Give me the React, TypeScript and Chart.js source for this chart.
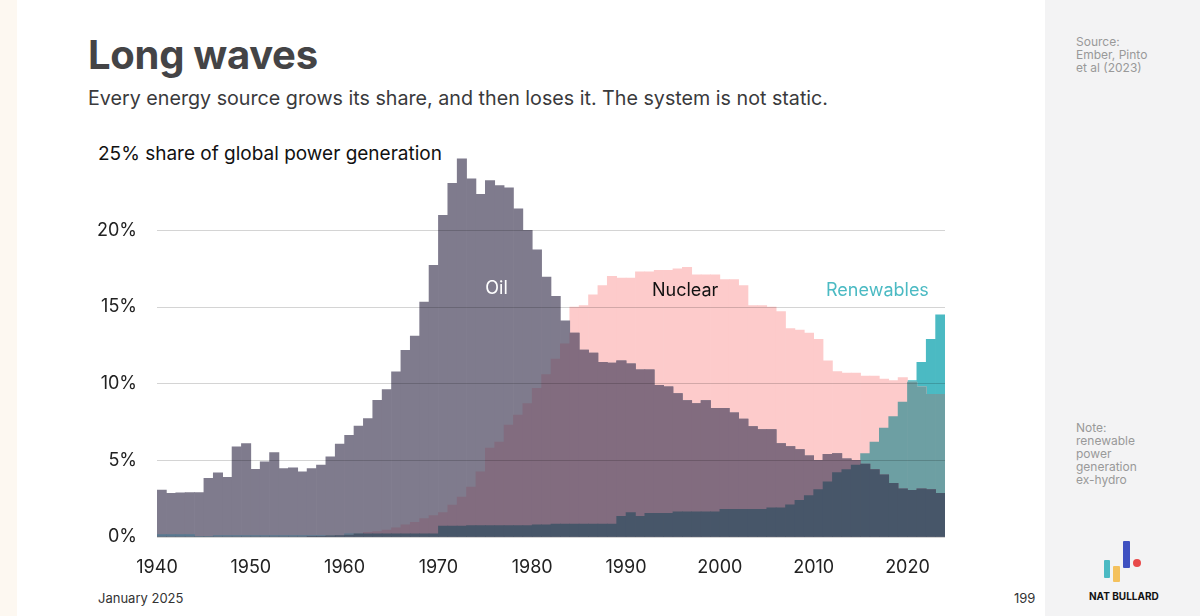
import React, { useEffect, useRef } from "react";
import { Chart, registerables } from "chart.js";
Chart.register(...registerables);

const years: number[] = [];
for (let y = 1940; y <= 2023; y++) years.push(y);

const oil = [
  3.06, 2.85, 2.88, 2.9, 2.9, 3.82, 4.19, 3.89, 5.88, 6.1,
  4.41, 4.91, 5.5, 4.47, 4.51, 4.25, 4.47, 4.69, 5.23, 6.06,
  6.64, 7.23, 7.73, 8.92, 9.62, 10.77, 12.18, 13.1, 15.33, 17.72,
  20.98, 23.08, 24.67, 23.37, 22.35, 23.26, 22.93, 22.78, 21.41, 20.0,
  18.74, 16.96, 15.7, 14.1, 13.3, 12.2, 12.0, 11.4, 11.35, 11.5,
  11.3, 10.9, 10.9, 9.9, 9.8, 9.35, 8.9, 8.7, 8.9, 8.4,
  8.4, 8.1, 7.7, 7.2, 7.0, 7.0, 6.1, 5.9, 5.7, 5.3,
  5.0, 5.4, 5.45, 5.1, 5.0, 4.75, 4.4, 4.05, 3.5, 3.15,
  3.05, 3.15, 3.1, 2.85,
];
const nuclear = [
  0, 0, 0, 0, 0, 0, 0, 0, 0, 0,
  0, 0, 0, 0, 0, 0, 0.02, 0.05, 0.08, 0.1,
  0.12, 0.2, 0.3, 0.35, 0.45, 0.6, 0.8, 0.95, 1.2, 1.4,
  1.6, 2.08, 2.6, 3.26, 4.25, 5.8, 6.2, 7.3, 7.95, 8.7,
  9.7, 10.6, 11.6, 12.6, 15.0, 15.1, 15.8, 16.4, 17.0, 16.9,
  16.9, 17.3, 17.3, 17.4, 17.4, 17.5, 17.6, 17.1, 17.1, 17.1,
  16.8, 16.8, 16.4, 15.1, 15.1, 15.0, 14.7, 13.6, 13.5, 13.3,
  12.9, 11.5, 10.8, 10.7, 10.7, 10.5, 10.5, 10.3, 10.2, 10.4,
  10.1, 9.8, 9.3, 9.3,
];
const renewables = [
  0.15, 0.15, 0.15, 0.15, 0.05, 0.05, 0.1, 0.1, 0.1, 0.1,
  0.1, 0.1, 0.1, 0.1, 0.1, 0.1, 0.1, 0.1, 0.1, 0.1,
  0.2, 0.2, 0.2, 0.2, 0.2, 0.2, 0.2, 0.2, 0.2, 0.2,
  0.72, 0.72, 0.72, 0.75, 0.75, 0.75, 0.75, 0.75, 0.75, 0.75,
  0.8, 0.8, 0.85, 0.85, 0.85, 0.85, 0.85, 0.85, 0.85, 1.35,
  1.6, 1.35, 1.55, 1.55, 1.55, 1.65, 1.65, 1.65, 1.65, 1.65,
  1.8, 1.8, 1.8, 1.8, 1.8, 1.9, 1.9, 2.1, 2.4, 2.7,
  3.1, 3.6, 4.2, 4.4, 4.7, 5.45, 6.2, 7.1, 7.85, 8.8,
  10.2, 11.4, 12.9, 14.5,
];
const yTicks = [0, 5, 10, 15, 20, 25];
const xTicks = [1940, 1950, 1960, 1970, 1980, 1990, 2000, 2010, 2020];

const C = {
  oil: "#7f7b8d",
  nuc: "#fdcbcb",
  ren: "#4bbac3",
  oilNuc: "#826c7f",
  nucRen: "#6d9fa3",
  oilRen: "#587890",
  all: "#475669",
};

const FONT = "Inter, 'Noto Sans', sans-serif";

export default function App() {
  const ref = useRef<HTMLCanvasElement>(null);
  useEffect(() => {
    const pts = (arr: number[]) => arr.map((v, i) => ({ x: years[i] + 0.5, y: v }));
    const mk = (label: string, arr: number[], color: string) => ({
      label,
      data: pts(arr),
      backgroundColor: color,
      borderWidth: 0,
      barPercentage: 1,
      categoryPercentage: 1,
      grouped: false,
    });
    const min2 = (a: number[], b: number[]) => a.map((v, i) => Math.min(v, b[i]));
    const all3 = oil.map((v, i) => Math.min(v, nuclear[i], renewables[i]));
    const labels = {
      id: "labels",
      afterDatasetsDraw(chart: any) {
        const { ctx, scales } = chart;
        const x = scales.x, y = scales.y;
        ctx.save();
        ctx.font = `18px ${FONT}`;
        ctx.textAlign = "center";
        ctx.textBaseline = "middle";
        ctx.fillStyle = "#ffffff";
        ctx.fillText("Oil", x.getPixelForValue(1976.2), y.getPixelForValue(16.2));
        ctx.fillStyle = "#111111";
        ctx.fillText("Nuclear", x.getPixelForValue(1996.3), y.getPixelForValue(16.05));
        ctx.fillStyle = "#4bbac3";
        ctx.fillText("Renewables", x.getPixelForValue(2016.8), y.getPixelForValue(16.05));
        ctx.restore();
      },
    };
    const chart = new Chart(ref.current!, {
      type: "bar",
      data: {
        datasets: [
          mk("all", all3, C.all),
          mk("oilNuc", min2(oil, nuclear), C.oilNuc),
          mk("nucRen", min2(nuclear, renewables), C.nucRen),
          mk("oilRen", min2(oil, renewables), C.oilRen),
          mk("Oil", oil, C.oil),
          mk("Nuclear", nuclear, C.nuc),
          mk("Renewables", renewables, C.ren),
        ] as any,
      },
      options: {
        animation: false,
        responsive: false,
        maintainAspectRatio: false,
        layout: { padding: { top: 13, right: 15, left: 0, bottom: 0 } },
        plugins: { legend: { display: false }, tooltip: { enabled: false } },
        scales: {
          x: {
            type: "linear",
            min: 1940,
            max: 2024,
            offset: false,
            grid: { display: false },
            border: { display: false },
            afterBuildTicks: (s: any) => { s.ticks = xTicks.map((v) => ({ value: v })); },
            afterFit: (s: any) => { s.height = 43; },
            ticks: {
              color: "#222",
              font: { family: FONT, size: 18 },
              padding: 12,
              maxRotation: 0,
              callback: (v: any) => String(v),
            },
          },
          y: {
            min: 0,
            max: 25,
            grid: {
              color: (c: any) => (c.tick && c.tick.value === 25 ? "rgba(0,0,0,0)" : "rgba(0,0,0,0.17)"),
              z: 1,
              drawTicks: false,
            },
            border: { display: false },
            afterBuildTicks: (s: any) => { s.ticks = yTicks.map((v) => ({ value: v })); },
            afterFit: (s: any) => { s.width = 77; },
            ticks: {
              color: "#222",
              font: { family: FONT, size: 18 },
              padding: 20,
              callback: (v: any) => (v === 25 ? "" : v + "%"),
            },
          },
        },
      },
      plugins: [labels],
    });
    return () => chart.destroy();
  }, []);

  return (
    <div style={{ position: "fixed", left: 0, top: 0, width: 1200, height: 616, background: "#ffffff", overflow: "hidden", fontFamily: FONT }}>
      <div style={{ position: "absolute", left: 0, top: 0, width: 17, height: 616, background: "#fdf8f1" }} />
      <div style={{ position: "absolute", left: 1045, top: 0, width: 155, height: 616, background: "#f3f3f4" }} />
      <div style={{ position: "absolute", left: 88, top: 30, fontSize: 40, fontWeight: 700, color: "#444446", letterSpacing: -0.3 }}>Long waves</div>
      <div style={{ position: "absolute", left: 88, top: 86, fontSize: 19.7, color: "#3a3a3c" }}>
        Every energy source grows its share, and then loses it. The system is not static.
      </div>
      <canvas ref={ref} width={880} height={457} style={{ position: "absolute", left: 80, top: 123, width: 880, height: 457 }} />
      <div style={{ position: "absolute", left: 88, top: 138, padding: "4px 10px", background: "#fff", fontSize: 19, color: "#111" }}>
        25% share of global power generation
      </div>
      <div style={{ position: "absolute", left: 98, top: 590, fontSize: 13, color: "#333" }}>January 2025</div>
      <div style={{ position: "absolute", left: 1014, top: 590, fontSize: 13, color: "#333" }}>199</div>
      <div style={{ position: "absolute", left: 1076, top: 35, fontSize: 12, lineHeight: "13px", color: "#999" }}>
        Source:<br />Ember, Pinto<br />et al (2023)
      </div>
      <div style={{ position: "absolute", left: 1076, top: 421, fontSize: 12, lineHeight: "13px", color: "#999" }}>
        Note:<br />renewable<br />power<br />generation<br />ex-hydro
      </div>
      <div style={{ position: "absolute", left: 1104, top: 560, width: 6, height: 18, background: "#4bbac3", borderRadius: 1 }} />
      <div style={{ position: "absolute", left: 1113, top: 566, width: 7, height: 16, background: "#f4c15d", borderRadius: 1 }} />
      <div style={{ position: "absolute", left: 1123, top: 541, width: 7, height: 27, background: "#3f51c1", borderRadius: 1 }} />
      <div style={{ position: "absolute", left: 1133, top: 559, width: 8, height: 8, background: "#e84a4a", borderRadius: 4 }} />
      <div style={{ position: "absolute", left: 1089, top: 590, fontSize: 10, fontWeight: 700, color: "#111" }}>NAT BULLARD</div>
    </div>
  );
}
